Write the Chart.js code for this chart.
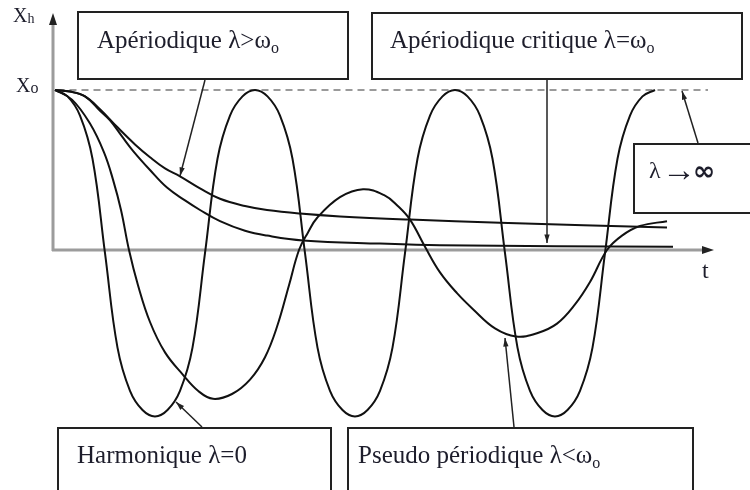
<!DOCTYPE html>
<html>
<head>
<meta charset="utf-8">
<script src="https://cdn.jsdelivr.net/npm/chart.js@4/dist/chart.umd.min.js"></script>
<style>
  html, body { margin: 0; padding: 0; background: #fff; }
  #wrap { width: 750px; height: 490px; position: relative; }
</style>
</head>
<body>
<div id="wrap"><canvas id="chart"></canvas></div>
<script>
// time axis: 1 unit = a quarter of the free oscillation period
// elongation: 1 = x0
const harmonicT = [
  0, 0.25, 0.5, 0.75, 1, 1.25, 1.5, 1.75, 2,
  2.25, 2.5, 2.75, 3, 3.25, 3.5, 3.75, 4,
  4.25, 4.5, 4.75, 5, 5.25, 5.5, 5.75, 6,
  6.25, 6.5, 6.75, 7, 7.25, 7.5, 7.75, 8,
  8.25, 8.5, 8.75, 9, 9.25, 9.5, 9.75, 10,
  10.25, 10.5, 10.75, 11, 11.25, 11.5, 11.75, 12
];
const harmonicX = [
  1.00, 0.96, 0.84, 0.57, -0.02, -0.61, -0.88, -1.00, -1.04,
  -1.00, -0.88, -0.61, -0.02, 0.57, 0.84, 0.96, 1.00,
  0.96, 0.84, 0.57, -0.02, -0.61, -0.88, -1.00, -1.04,
  -1.00, -0.88, -0.61, -0.02, 0.57, 0.84, 0.96, 1.00,
  0.96, 0.84, 0.57, -0.02, -0.61, -0.88, -1.00, -1.04,
  -1.00, -0.88, -0.61, -0.02, 0.57, 0.84, 0.96, 1.00
];

const pseudoT = [0, 0.34, 0.70, 0.98, 1.16, 1.32, 1.48, 1.66, 1.90, 2.20, 2.56, 2.86, 3.16, 3.54,
  3.90, 4.20, 4.44, 4.68, 4.88, 5.06, 5.24, 5.70, 6.16, 6.60, 6.84, 7.10, 7.40, 7.70,
  8.04, 8.36, 8.80, 9.22, 9.64, 10.04, 10.40, 10.70, 11.04, 11.34, 11.70, 12.24];
const pseudoX = [1.00, 0.94, 0.79, 0.61, 0.44, 0.25, 0.00, -0.22, -0.45, -0.64, -0.78, -0.88, -0.93, -0.90,
  -0.81, -0.67, -0.48, -0.22, 0.00, 0.11, 0.20, 0.33, 0.38, 0.34, 0.28, 0.19, 0.02, -0.14,
  -0.27, -0.37, -0.49, -0.54, -0.52, -0.46, -0.34, -0.20, 0.00, 0.09, 0.15, 0.18];

const overT = [0, 0.30, 0.60, 0.90, 1.24, 1.60, 1.90, 2.20, 2.50, 2.90, 3.30, 3.80, 4.24,
  4.90, 5.70, 7.10, 8.90, 12.24];
const overX = [1.00, 0.99, 0.96, 0.88, 0.77, 0.66, 0.58, 0.51, 0.46, 0.385, 0.32, 0.275, 0.25,
  0.228, 0.21, 0.19, 0.17, 0.14];

const criticalT = [0, 0.30, 0.60, 0.90, 1.10, 1.34, 1.56, 1.90, 2.24, 2.60, 2.90, 3.30, 3.80,
  4.24, 4.96, 6.50, 7.70, 12.36];
const criticalX = [1.00, 0.99, 0.96, 0.87, 0.81, 0.71, 0.62, 0.50, 0.39, 0.31, 0.25, 0.18, 0.12,
  0.09, 0.06, 0.04, 0.03, 0.02];

const SERIF = '"Liberation Serif", "Times New Roman", serif';
const SANS = '"DejaVu Sans", sans-serif';
const INK = '#1d1d2b';

function toPoints(ts, xs) {
  return ts.map((t, i) => ({ x: t, y: xs[i] }));
}

function curve(label, ts, xs) {
  return {
    label,
    data: toPoints(ts, xs),
    borderColor: '#111',
    borderWidth: 2,
    pointRadius: 0,
    fill: false,
    tension: 0.4,
  };
}

// text with optional subscripts: parts = [[text, isSub], ...]
function richText(ctx, parts, x, y, size, subRatio = 0.62, drop = 0.2) {
  let cx = x;
  parts.forEach(([txt, sub]) => {
    ctx.font = `${sub ? Math.round(size * subRatio) : size}px ${SERIF}`;
    ctx.fillText(txt, cx, sub ? y + size * drop : y);
    cx += ctx.measureText(txt).width;
  });
}

function arrow(ctx, x1, y1, x2, y2) {
  const head = 9;
  ctx.beginPath();
  ctx.moveTo(x1, y1);
  ctx.lineTo(x2, y2);
  ctx.stroke();
  const a = Math.atan2(y2 - y1, x2 - x1);
  ctx.beginPath();
  ctx.moveTo(x2, y2);
  ctx.lineTo(x2 - head * Math.cos(a - 0.3), y2 - head * Math.sin(a - 0.3));
  ctx.lineTo(x2 - head * Math.cos(a + 0.3), y2 - head * Math.sin(a + 0.3));
  ctx.closePath();
  ctx.fill();
}

function box(ctx, x, y, w, h) {
  ctx.fillStyle = '#fff';
  ctx.fillRect(x, y, w, h);
  ctx.strokeStyle = '#222';
  ctx.lineWidth = 2;
  ctx.strokeRect(x, y, w, h);
}

const diagram = {
  id: 'diagram',
  beforeDatasetsDraw(chart) {
    const { ctx, scales: { x, y } } = chart;
    const x0 = x.getPixelForValue(-0.04);
    const y0 = y.getPixelForValue(0);
    const yTop = y.getPixelForValue(1);
    ctx.save();
    // x0 reference level
    ctx.strokeStyle = '#9a9a9a';
    ctx.lineWidth = 2;
    ctx.setLineDash([7, 5]);
    ctx.beginPath();
    ctx.moveTo(x.getPixelForValue(0.05), yTop);
    ctx.lineTo(708, yTop);
    ctx.stroke();
    ctx.setLineDash([]);
    // axes
    ctx.strokeStyle = '#9c9c9c';
    ctx.lineWidth = 3;
    ctx.beginPath();
    ctx.moveTo(x0, y0 + 1);
    ctx.lineTo(x0, 22);
    ctx.moveTo(x0 - 1, y0);
    ctx.lineTo(704, y0);
    ctx.stroke();
    ctx.fillStyle = '#222';
    ctx.beginPath();
    ctx.moveTo(x0, 13);
    ctx.lineTo(x0 - 4, 25);
    ctx.lineTo(x0 + 4, 25);
    ctx.closePath();
    ctx.fill();
    ctx.beginPath();
    ctx.moveTo(714, y0);
    ctx.lineTo(702, y0 - 4);
    ctx.lineTo(702, y0 + 4);
    ctx.closePath();
    ctx.fill();
    ctx.restore();
  },
  afterDatasetsDraw(chart) {
    const { ctx, scales: { y } } = chart;
    const y0 = y.getPixelForValue(0);
    ctx.save();
    ctx.fillStyle = INK;
    ctx.textBaseline = 'alphabetic';
    richText(ctx, [['X', false], ['h', true]], 13, 22, 20, 0.72, 0.05);
    richText(ctx, [['X', false], ['o', true]], 16, 92, 20, 0.8, 0.05);
    ctx.font = `24px ${SERIF}`;
    ctx.fillText('t', 702, y0 + 28);

    box(ctx, 78, 12, 270, 67);
    box(ctx, 372, 13, 370, 66);
    box(ctx, 634, 144, 130, 69);
    box(ctx, 58, 428, 273, 70);
    box(ctx, 348, 428, 345, 70);

    ctx.fillStyle = INK;
    richText(ctx, [['Apériodique λ>ω', false], ['o', true]], 97, 48, 25);
    richText(ctx, [['Apériodique critique λ=ω', false], ['o', true]], 390, 48, 25);
    richText(ctx, [['Harmonique λ=0', false]], 77, 463, 25);
    richText(ctx, [['Pseudo périodique λ<ω', false], ['o', true]], 358, 463, 25);
    ctx.font = `24px ${SERIF}`;
    ctx.fillText('λ', 649, 178);
    ctx.font = `34px ${SERIF}`;
    ctx.fillText('→', 662, 181);
    ctx.font = `bold 27px ${SANS}`;
    ctx.fillText('∞', 693, 180);

    ctx.strokeStyle = '#222';
    ctx.fillStyle = '#222';
    ctx.lineWidth = 1.5;
    arrow(ctx, 205, 80, 180, 176);
    arrow(ctx, 547, 80, 547, 243);
    arrow(ctx, 698, 143, 682, 91);
    arrow(ctx, 202, 427, 176, 402);
    arrow(ctx, 514, 427, 505, 338);
    ctx.restore();
  }
};

new Chart(document.getElementById('chart'), {
  type: 'line',
  data: {
    datasets: [
      curve('Harmonique', harmonicT, harmonicX),
      curve('Pseudo périodique', pseudoT, pseudoX),
      curve('Apériodique', overT, overX),
      curve('Apériodique critique', criticalT, criticalX),
    ],
  },
  options: {
    responsive: true,
    maintainAspectRatio: false,
    animation: false,
    events: [],
    layout: { padding: { top: 10, left: 0, right: 0, bottom: 0 } },
    plugins: { legend: { display: false }, tooltip: { enabled: false } },
    scales: {
      x: { type: 'linear', display: false, min: -1.1, max: 13.9 },
      y: { display: false, min: -1.5, max: 1.5 },
    },
  },
  plugins: [diagram],
});
</script>
</body>
</html>
